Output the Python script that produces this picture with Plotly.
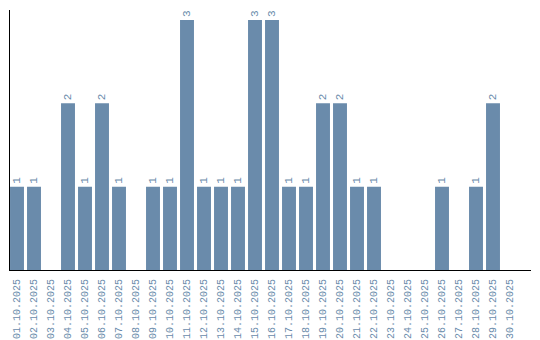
import plotly.graph_objects as go

dates = [f"{d:02d}.10.2025" for d in range(1, 31)]
values = [1, 1, 0, 2, 1, 2, 1, 0, 1, 1, 3, 1, 1, 1, 3, 3, 1, 1, 2, 2, 1, 1, 0, 0, 0, 1, 0, 1, 2, 0]
labels = [str(v) if v > 0 else "" for v in values]

color = "#6a8bab"
fontfam = "Liberation Mono"

fig = go.Figure(go.Bar(
    x=dates, y=values, text=labels, textposition="outside", textangle=-90,
    textfont=dict(family=fontfam, size=11, color=color),
    marker=dict(color=color, line=dict(width=0)), cliponaxis=False,
))
fig.update_layout(
    width=540, height=340, margin=dict(l=10, r=9, t=10, b=70),
    paper_bgcolor="white", plot_bgcolor="white", bargap=0.18, showlegend=False,
    font=dict(family=fontfam, size=10, color=color),
)
fig.update_xaxes(type="category", range=[-0.412, 30.235], showline=True, linecolor="black",
                 linewidth=1, tickangle=-90, showgrid=False, ticks="outside", ticklen=4,
                 tickcolor="rgba(0,0,0,0)", automargin=False,
                 tickfont=dict(family=fontfam, size=10, color=color))
fig.update_yaxes(range=[0, 3.12], showline=True, linecolor="black", linewidth=1,
                 showticklabels=False, showgrid=False, zeroline=False, ticks="",
                 automargin=False)
fig.write_html("out.html")
